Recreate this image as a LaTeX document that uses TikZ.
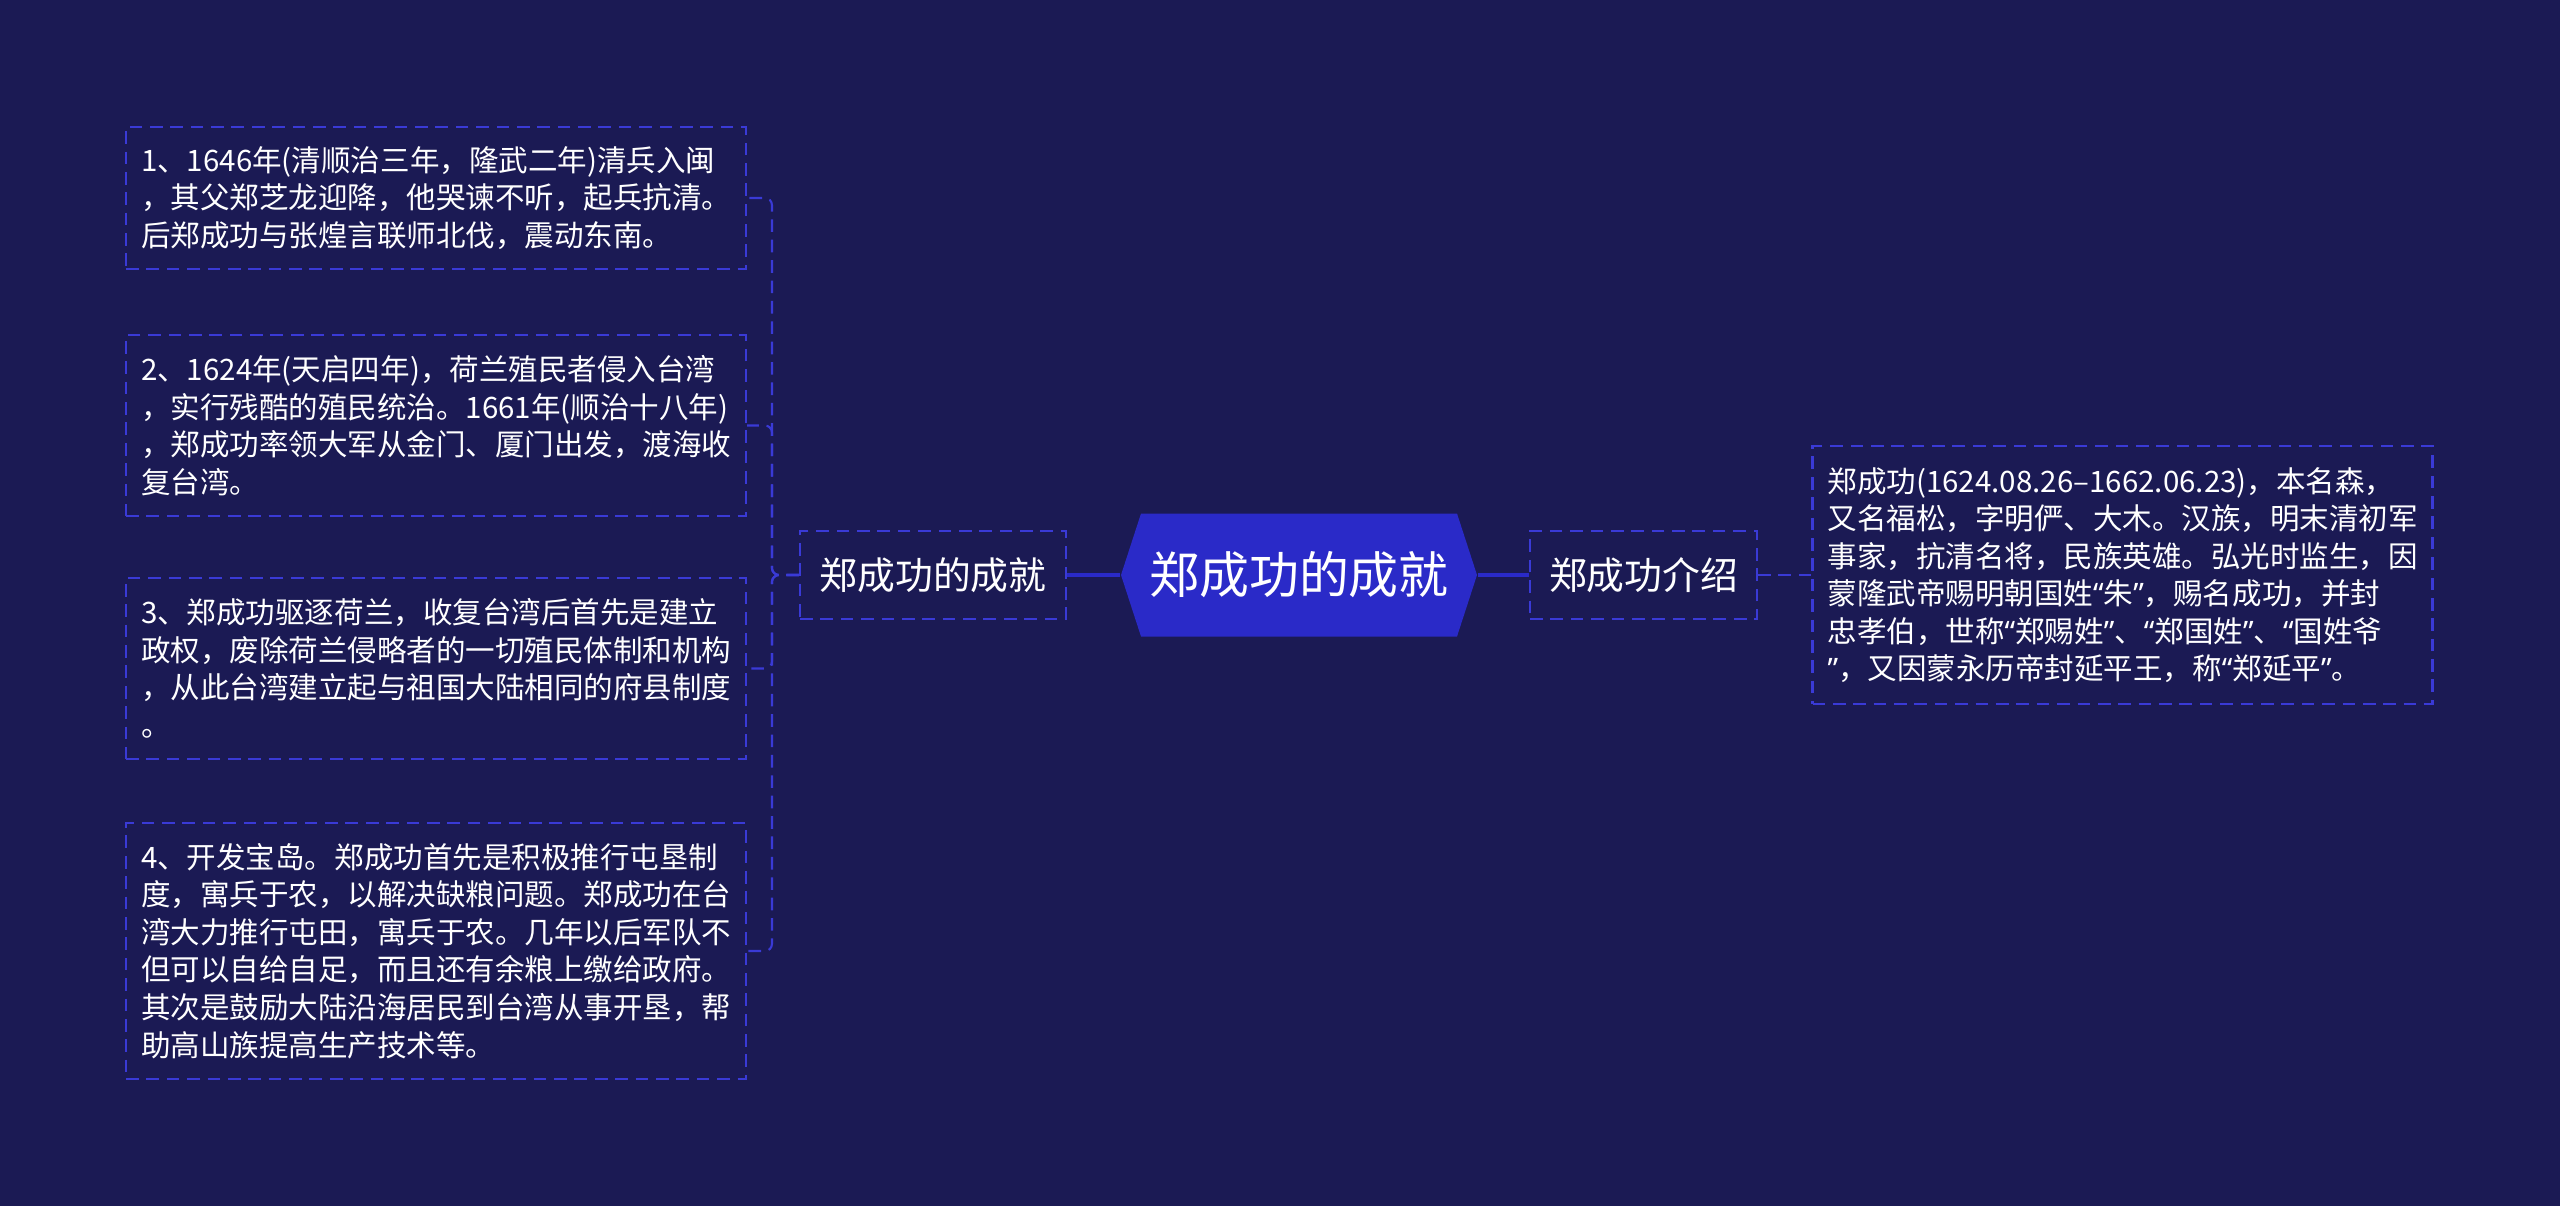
\documentclass[tikz,border=0pt]{standalone}
\usepackage{fontspec}
\setmainfont{Noto Sans CJK SC}
\newfontfamily\latinq{Noto Sans}
\newcommand{\qo}{{\latinq “}}
\newcommand{\qc}{{\latinq ”}}
\usetikzlibrary{calc}
\definecolor{bgnavy}{RGB}{27,26,84}
\definecolor{hexblue}{RGB}{42,42,200}
\definecolor{edge}{RGB}{58,58,214}

\begin{document}
\begin{tikzpicture}[
  leaf/.style={draw=edge,line width=0.6pt,dash pattern=on 3.6pt off 2.2pt,text=white,
    align=left,text width=5.9cm,inner xsep=0.15cm,font=\fontsize{8.4pt}{10.67pt}\selectfont},
  topic/.style={draw=edge,line width=0.6pt,dash pattern=on 3.6pt off 2.2pt,text=white,
    minimum height=0.88cm,inner sep=0pt,font=\fontsize{10.75pt}{13pt}\selectfont},
  hexn/.style={text=white,minimum width=3.56cm,minimum height=1.23cm,inner sep=0pt,
    font=\fontsize{14.2pt}{17pt}\selectfont},
  trunk/.style={hexblue,line width=1.2pt},
  link/.style={edge,line width=0.6pt,dash pattern=on 3.6pt off 2.2pt,rounded corners=2pt}]
\fill[bgnavy] (0,0) rectangle (25.6,-12.06);
\begin{scope}[shift={(12.99,-5.75)}]
  \fill[hexblue] (-1.78,0)--(-1.58,0.615)--(1.58,0.615)--(1.78,0)--(1.58,-0.615)--(-1.58,-0.615)--cycle;
  \node[hexn] (root) at (0,0) {郑成功的成就};
\end{scope}
\node[topic,minimum width=2.66cm] (lsub) at (9.33,-5.75) {郑成功的成就};
\node[topic,minimum width=2.27cm] (rsub) at (16.435,-5.75) {郑成功介绍};
\node[leaf,minimum height=2.58cm] (rbox) at (21.225,-5.75) {郑成功(1624.08.26–1662.06.23)，本名森，\\又名福松，字明俨、大木。汉族，明末清初军\\事家，抗清名将，民族英雄。弘光时监生，因\\蒙隆武帝赐明朝国姓\qo 朱\qc，赐名成功，并封\\忠孝伯，世称\qo 郑赐姓\qc、\qo 郑国姓\qc、\qo 国姓爷\\\qc，又因蒙永历帝封延平王，称\qo 郑延平\qc。};
\node[leaf,minimum height=1.42cm] (b1) at (4.36,-1.98) {1、1646年(清顺治三年，隆武二年)清兵入闽\\，其父郑芝龙迎降，他哭谏不听，起兵抗清。\\后郑成功与张煌言联师北伐，震动东南。};
\node[leaf,minimum height=1.81cm] (b2) at (4.36,-4.255) {2、1624年(天启四年)，荷兰殖民者侵入台湾\\，实行残酷的殖民统治。1661年(顺治十八年)\\，郑成功率领大军从金门、厦门出发，渡海收\\复台湾。};
\node[leaf,minimum height=1.81cm] (b3) at (4.36,-6.685) {3、郑成功驱逐荷兰，收复台湾后首先是建立\\政权，废除荷兰侵略者的一切殖民体制和机构\\，从此台湾建立起与祖国大陆相同的府县制度\\。};
\node[leaf,minimum height=2.56cm] (b4) at (4.36,-9.51) {4、开发宝岛。郑成功首先是积极推行屯垦制\\度，寓兵于农，以解决缺粮问题。郑成功在台\\湾大力推行屯田，寓兵于农。几年以后军队不\\但可以自给自足，而且还有余粮上缴给政府。\\其次是鼓励大陆沿海居民到台湾从事开垦，帮\\助高山族提高生产技术等。};
\draw[trunk] (root.west) -- (lsub.east);
\draw[trunk] (root.east) -- (rsub.west);
\draw[link] (rsub.east) -- (rbox.west);
\coordinate (lj) at ($(lsub.west)+(-0.27,0)$);
\foreach \b in {b1,b2,b3,b4}
  \draw[link] (lsub.west) -- (lj) |- (\b.east);
\end{tikzpicture}
\end{document}
